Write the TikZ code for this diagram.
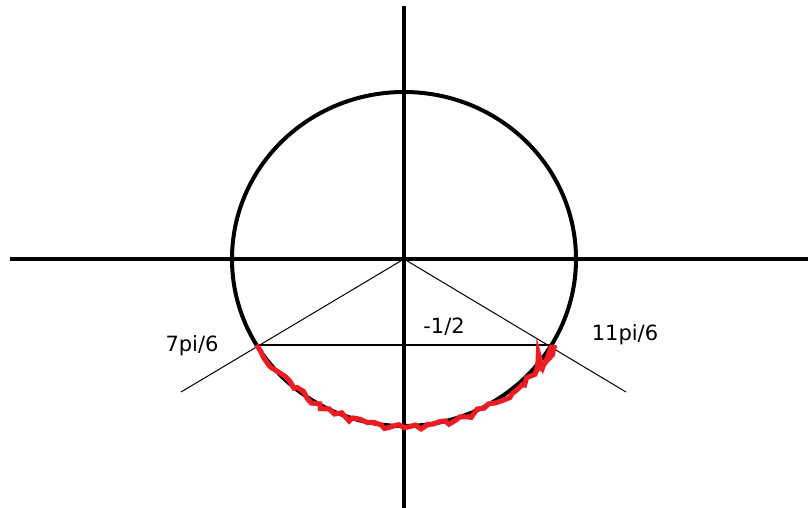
\documentclass[tikz,border=0pt]{standalone}
\usepackage{fontspec}
\setmainfont{DejaVu Sans}
\usetikzlibrary{positioning, decorations.pathmorphing}

\definecolor{paintred}{RGB}{237,28,36}

\begin{document}
\begin{tikzpicture}[x=1pt, y=-1pt,
    axis/.style={line width=4pt},
    thin/.style={line width=1pt},
    lbl/.style={font=\fontsize{21}{24}\selectfont, inner sep=0pt}]
  \useasboundingbox (0,0) rectangle (808,508);
  \coordinate (O) at (404,259);
  \coordinate (xl) at (10,259);
  \coordinate (xr) at (808,259);
  \coordinate (yt) at (404,6);
  \coordinate (yb) at (404,508);
  \coordinate (p7) at (256.6,345);
  \coordinate (p11) at (551.4,345);
  \coordinate (r7) at (181,392);
  \coordinate (r11) at (626,392);
  \draw[axis] (xl) -- (xr);
  \draw[axis] (yt) -- (yb);
  \draw[axis] (O) ellipse [x radius=172, y radius=167];
  \draw[thin] (O) -- (r7);
  \draw[thin] (O) -- (r11);
  \draw[line width=1.3pt] (p7) -- (p11);
  \pgfmathsetseed{11}
  \draw[paintred, line width=5pt, decorate,
        decoration={random steps, segment length=6pt, amplitude=3.5pt}]
    (p7) arc [start angle=149, end angle=31, x radius=174, y radius=169];
  \draw[paintred, line width=4pt] (p11) -- (543,368) -- (538,350) -- (537,372);
  \node[lbl] (l7) at (192,346) {7pi/6};
  \node[lbl] (lhalf) at (444,327) {-1/2};
  \node[lbl] (l11) at (625,335) {11pi/6};
\end{tikzpicture}
\end{document}
